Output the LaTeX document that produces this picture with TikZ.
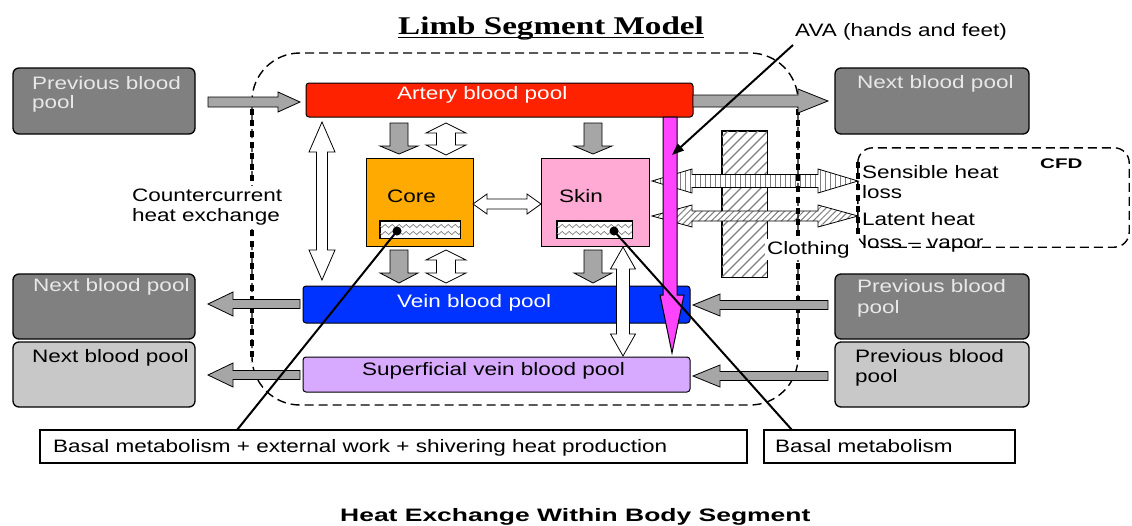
\documentclass[tikz,border=0pt]{standalone}
\usepackage{fontspec}
\setmainfont{Liberation Sans}
\newfontfamily\lab{Liberation Sans}[FakeStretch=1.25]
\newfontfamily\ttlfont{Liberation Serif}[FakeStretch=1.3]
\newfontfamily\bttl{Liberation Sans}[FakeStretch=1.47]
\usetikzlibrary{patterns.meta,decorations.pathmorphing,arrows.meta}
\definecolor{boxdark}{RGB}{128,128,128}
\definecolor{boxlight}{RGB}{200,200,200}
\definecolor{arrgray}{RGB}{166,166,166}
\definecolor{artred}{RGB}{255,34,0}
\definecolor{veinblue}{RGB}{0,51,255}
\definecolor{suplav}{RGB}{215,170,255}
\definecolor{coreor}{RGB}{255,170,0}
\definecolor{skinpk}{RGB}{255,170,212}
\definecolor{avamag}{RGB}{255,68,255}
\definecolor{lighttxt}{RGB}{232,232,232}
\newcommand\myHArrow[7]{%
  \pgfmathsetmacro\myxb{#3-sign(#3-#2)*#7}%
  \path[#1] (#2,#4-#5) -- (\myxb,#4-#5) -- (\myxb,#4-#6) -- (#3,#4) -- (\myxb,#4+#6) -- (\myxb,#4+#5) -- (#2,#4+#5) -- cycle;}
\newcommand\myVArrow[7]{%
  \pgfmathsetmacro\myyb{#3-sign(#3-#2)*#7}%
  \path[#1] (#4-#5,#2) -- (#4-#5,\myyb) -- (#4-#6,\myyb) -- (#4,#3) -- (#4+#6,\myyb) -- (#4+#5,\myyb) -- (#4+#5,#2) -- cycle;}
\newcommand\myHDArrow[7]{%
  \path[#1] (#2,#4) -- (#2+#7,#4-#6) -- (#2+#7,#4-#5) -- (#3-#7,#4-#5) -- (#3-#7,#4-#6) -- (#3,#4) -- (#3-#7,#4+#6) -- (#3-#7,#4+#5) -- (#2+#7,#4+#5) -- (#2+#7,#4+#6) -- cycle;}
\newcommand\myVDArrow[7]{%
  \path[#1] (#4,#2) -- (#4-#6,#2+#7) -- (#4-#5,#2+#7) -- (#4-#5,#3-#7) -- (#4-#6,#3-#7) -- (#4,#3) -- (#4+#6,#3-#7) -- (#4+#5,#3-#7) -- (#4+#5,#2+#7) -- (#4+#6,#2+#7) -- cycle;}
\begin{document}
\begin{tikzpicture}[x=1pt,y=-1pt,
  lbl/.style={inner sep=0pt, anchor=base west, font=\lab\fontsize{18}{20}\selectfont},
  wlbl/.style={lbl, text=lighttxt},
  box/.style={draw, line width=1.3pt, inner sep=0pt, rounded corners=6pt},
  dbox/.style={box, fill=boxdark},
  lbox/.style={box, fill=boxlight},
  bar/.style={draw, line width=1pt, inner sep=0pt, rounded corners=3pt},
  sbox/.style={draw, line width=1pt, inner sep=0pt},
  garr/.style={draw, line width=0.8pt, fill=arrgray},
  warr/.style={draw, line width=0.8pt, fill=white},
  sens/.style={draw, line width=0.8pt, preaction={fill=white}, pattern={Lines[angle=90,distance=5pt,line width=1pt]}, pattern color=gray},
  lat/.style={draw, line width=0.8pt, preaction={fill=white}, pattern={Lines[angle=45,distance=4.5pt,line width=1pt]}, pattern color=gray},
  wave/.style={gray, line width=0.7pt, decorate, decoration={snake, amplitude=1.6pt, segment length=7pt}},
  bnd/.style={line width=1.4pt, dash pattern=on 9pt off 5pt},
  bndthick/.style={line width=3.5pt, dash pattern=on 6pt off 5pt},
  pointer/.style={line width=2pt}]
\fill[white] (0,0) rectangle (1132,525);
\useasboundingbox (0,0) rectangle (1132,525);

% clothing layer
\node[sbox, fill=white, minimum width=45pt, minimum height=146pt] (cloth) at (744.5,204) {};
\begin{scope}
  \clip (cloth.south west) rectangle (cloth.north east);
  \foreach \k in {0,...,22} \draw[gray, line width=1.2pt] (722-160+\k*10,277) -- ++(200,-200);
\end{scope}
\draw[line width=1pt] (cloth.south west) rectangle (cloth.north east);

% heat loss arrows
\myHDArrow{sens}{652}{858}{181}{6.5}{12}{40}
\myHDArrow{lat}{652}{858}{216}{5}{11}{40}

% CFD box
\node[inner sep=0pt, minimum width=271pt, minimum height=99pt] (cfd) at (993.5,197.5) {};
\draw[bnd, rounded corners=15pt] (cfd.south west) rectangle (cfd.north east);
\draw[bndthick] (858,162) -- (858,238);

% outer boundary
\draw[bnd, rounded corners=48pt] (252,53) rectangle (798,405);
\draw[bndthick] (252,98) -- (252,362);
\draw[bndthick] (798,98) -- (798,358);

% side boxes
\node[dbox, minimum width=182pt, minimum height=66pt] (pL1) at (104,101) {};
\node[dbox, minimum width=182pt, minimum height=65pt] (nL2) at (104,306.5) {};
\node[lbox, minimum width=182pt, minimum height=65pt] (nL3) at (104,374.5) {};
\node[dbox, minimum width=194pt, minimum height=66pt] (nR1) at (932,101) {};
\node[dbox, minimum width=194pt, minimum height=65pt] (pR2) at (932,306.5) {};
\node[lbox, minimum width=194pt, minimum height=65pt] (pR3) at (932,374.5) {};

% pools
\node[bar, fill=artred, minimum width=387pt, minimum height=34pt] (artery) at (499.5,100) {};
\node[bar, fill=veinblue, minimum width=387pt, minimum height=37pt] (vein) at (496.5,304.5) {};
\node[bar, fill=suplav, minimum width=387pt, minimum height=35pt] (sup) at (496.5,374.5) {};

% core and skin
\node[sbox, fill=coreor, minimum width=107pt, minimum height=88pt] (core) at (419.5,202) {};
\node[sbox, fill=skinpk, minimum width=108pt, minimum height=88pt] (skin) at (595,202) {};
\node[sbox, fill=white, minimum width=80pt, minimum height=17pt] (coreIn) at (420,229.5) {};
\node[sbox, fill=white, minimum width=75pt, minimum height=17pt] (skinIn) at (594.5,229.5) {};
\begin{scope}
  \clip (coreIn.south west) rectangle (coreIn.north east);
  \foreach \yy in {226,233} \draw[wave] (376,\yy) -- (466,\yy);
\end{scope}
\begin{scope}
  \clip (skinIn.south west) rectangle (skinIn.north east);
  \foreach \yy in {226,233} \draw[wave] (553,\yy) -- (638,\yy);
\end{scope}
\draw[line width=1pt] (coreIn.south west) rectangle (coreIn.north east);
\draw[line width=1pt] (skinIn.south west) rectangle (skinIn.north east);

% grey flow arrows
\myHArrow{garr}{208}{300}{102}{5}{10}{22}
\myHArrow{garr}{693}{828}{101}{6}{12}{30}
\myHArrow{garr}{300}{208}{304}{4.5}{12}{25}
\myHArrow{garr}{300}{208}{375}{4.5}{12}{25}
\myHArrow{garr}{828}{693}{305}{4.5}{11}{27}
\myHArrow{garr}{828}{693}{376}{4.5}{11}{27}
\myVArrow{garr}{123}{154}{399}{9}{19}{8}
\myVArrow{garr}{123}{154}{593}{9}{19}{8}
\myVArrow{garr}{250}{283}{399}{9}{19}{10}
\myVArrow{garr}{250}{283}{593}{9}{19}{10}

% white exchange arrows
\myVDArrow{warr}{122}{280}{322}{5.5}{13}{30}
\myVDArrow{warr}{123}{155}{446}{9.5}{20}{10}
\myVDArrow{warr}{250}{283}{446}{9.5}{20}{10}
\myHDArrow{warr}{473}{541}{204}{5}{10}{14}
\myVDArrow{warr}{247}{356}{623}{6.5}{12.5}{22}

% AVA magenta arrow
\path[draw, line width=1pt, fill=avamag] (663,117) -- (663,295) -- (660,295) -- (672,353) -- (684,295) -- (677,295) -- (677,117) -- cycle;

% texts
\node[inner sep=0pt, anchor=base west, font=\ttlfont\bfseries\fontsize{25.5}{28}\selectfont] (title) at (398,34) {Limb Segment Model};
\draw[line width=1.5pt] ([yshift=-3.5pt]title.base west) -- ([yshift=-3.5pt]title.base east);
\node[lbl] (tava) at (795,36) {AVA (hands and feet)};
\node[wlbl] (tpl1a) at (32,89) {Previous blood};
\node[wlbl] (tpl1b) at (32,108) {pool};
\node[wlbl] (tnl2) at (33,291) {Next blood pool};
\node[lbl] (tnl3) at (32,362) {Next blood pool};
\node[wlbl] (tnr1) at (857,88) {Next blood pool};
\node[wlbl] (tpr2a) at (857,292) {Previous blood};
\node[wlbl] (tpr2b) at (857,313) {pool};
\node[lbl] (tpr3a) at (855,362) {Previous blood};
\node[lbl] (tpr3b) at (855,382) {pool};
\node[lbl, text=white] (tart) at (397,99) {Artery blood pool};
\node[lbl, text=white] (tvein) at (397,307) {Vein blood pool};
\node[lbl] (tsup) at (362,375) {Superficial vein blood pool};
\node[lbl] (tcore) at (387,202) {Core};
\node[lbl] (tskin) at (559,202) {Skin};
\node[lbl, fill=white, inner sep=2pt] (tcloth) at (765,254) {Clothing};
\node[lbl, anchor=north west, align=left, fill=white, inner sep=3pt] (tcc) at (129,186) {Countercurrent\\heat exchange};
\node[lbl] (tsens1) at (862,178) {Sensible heat};
\node[lbl] (tsens2) at (862,198) {loss};
\node[lbl] (tlat1) at (862,225) {Latent heat};
\node[lbl] (tlat2) at (862,248) {loss – vapor};
\node[inner sep=0pt, anchor=base west, font=\bttl\bfseries\fontsize{14}{16}\selectfont] (tcfd) at (1040,168) {CFD};

% bottom boxes
\node[sbox, fill=white, line width=1.2pt, minimum width=707pt, minimum height=33pt] (bm1) at (393.5,446.5) {};
\node[sbox, fill=white, line width=1.2pt, minimum width=251pt, minimum height=33pt] (bm2) at (889.5,446.5) {};
\node[lbl] (tbm1) at (53,452) {Basal metabolism + external work + shivering heat production};
\node[lbl] (tbm2) at (775,452) {Basal metabolism};
\node[inner sep=0pt, anchor=base west, font=\bttl\bfseries\fontsize{18}{20}\selectfont] (btitle) at (340,521) {Heat Exchange Within Body Segment};

% pointer lines
\coordinate (coreDot) at (397,231);
\coordinate (skinDot) at (614,231);
\coordinate (bm1Hook) at (237,430);
\coordinate (bm2Hook) at (792,430);
\coordinate (avaFrom) at (793,45);
\coordinate (avaTip) at (672,155);
\fill (coreDot) circle (4.5);
\fill (skinDot) circle (4.5);
\draw[pointer] (coreDot) -- (bm1Hook);
\draw[pointer] (skinDot) -- (bm2Hook);
\draw[pointer, -{Triangle[length=12pt,width=9pt]}] (avaFrom) -- (avaTip);
\end{tikzpicture}
\end{document}
